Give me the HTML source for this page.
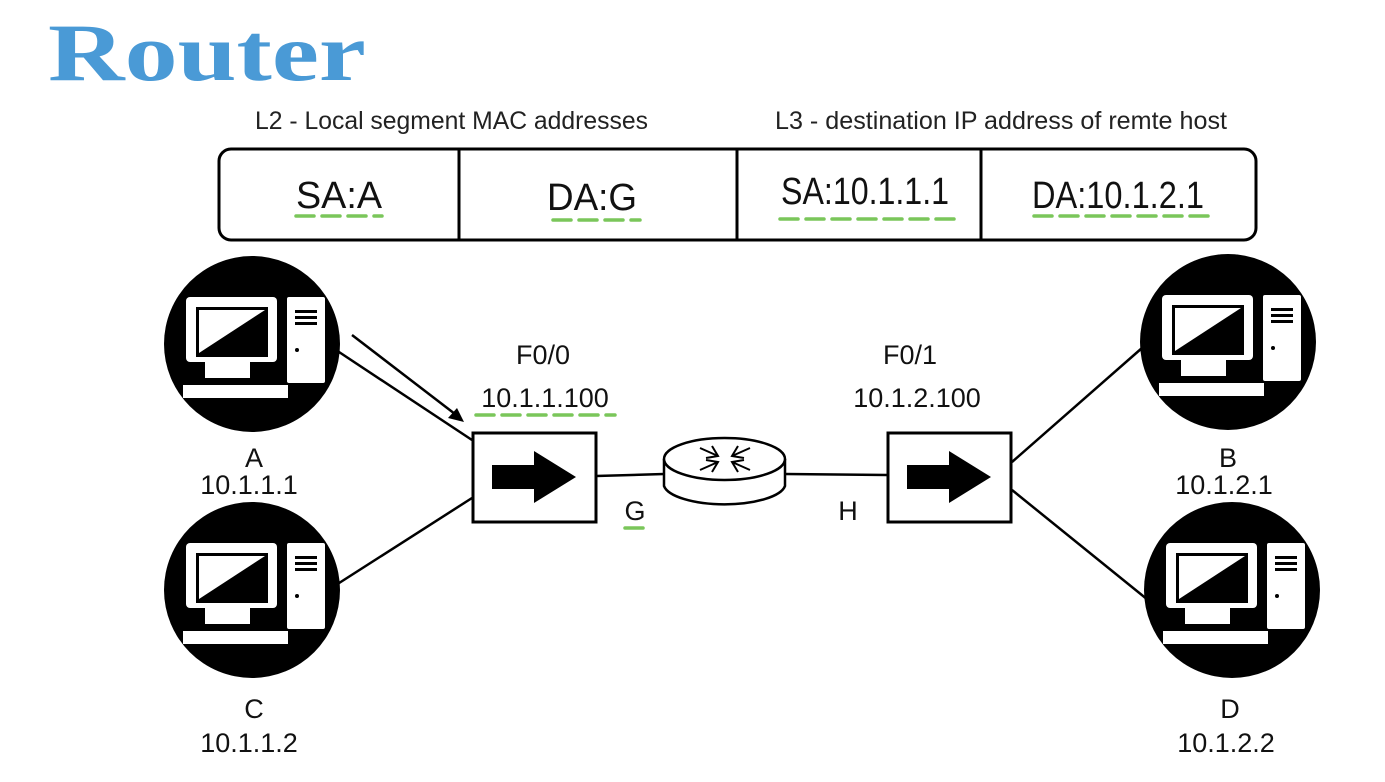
<!DOCTYPE html>
<html><head><meta charset="utf-8"><style>
html,body{margin:0;padding:0;background:#fff;}
svg{display:block;}
text{font-family:"Liberation Sans",sans-serif;}
text.t{font-family:"Liberation Serif",serif;font-weight:bold;}
</style></head><body>
<svg width="1385" height="782" viewBox="0 0 1385 782" xmlns="http://www.w3.org/2000/svg">
<defs>
<g id="pc">
<circle cx="0" cy="0" r="88" fill="#000"/>
<rect x="-66" y="-47" width="91" height="65" rx="4" fill="#fff"/>
<rect x="-56" y="-37" width="72" height="50" fill="#000"/>
<polygon points="-53,-34 13,-34 -53,9" fill="#fff"/>
<rect x="-47" y="18" width="45" height="16" fill="#fff"/>
<rect x="-69" y="41" width="105" height="13" fill="#fff"/>
<rect x="35" y="-47" width="38" height="86" rx="2" fill="#fff"/>
<rect x="43" y="-34" width="22" height="3" fill="#000"/>
<rect x="43" y="-28" width="22" height="3" fill="#000"/>
<rect x="43" y="-22" width="22" height="3" fill="#000"/>
<circle cx="45" cy="6" r="2" fill="#000"/>
</g>
<g id="arr">
<polygon points="0,-12 42,-12 42,-26 84,0 42,26 42,12 0,12" fill="#000"/>
</g>
</defs>

<text class="t" x="48" y="80" font-size="82" fill="#4a9ad6" textLength="318" lengthAdjust="spacingAndGlyphs">Router</text>

<text x="255" y="129" font-size="25" fill="#222" textLength="393" lengthAdjust="spacingAndGlyphs">L2 - Local segment MAC addresses</text>
<text x="775" y="129" font-size="25" fill="#222" textLength="452" lengthAdjust="spacingAndGlyphs">L3 - destination IP address of remte host</text>

<rect x="219" y="149" width="1037" height="91" rx="12" fill="none" stroke="#000" stroke-width="3"/>
<line x1="459" y1="149" x2="459" y2="240" stroke="#000" stroke-width="3"/>
<line x1="737" y1="149" x2="737" y2="240" stroke="#000" stroke-width="3"/>
<line x1="981" y1="149" x2="981" y2="240" stroke="#000" stroke-width="3"/>

<g font-size="38" fill="#111">
<text x="296" y="208" textLength="86" lengthAdjust="spacingAndGlyphs">SA:A</text>
<text x="547" y="210" textLength="90" lengthAdjust="spacingAndGlyphs">DA:G</text>
<text x="781" y="204" textLength="168" lengthAdjust="spacingAndGlyphs">SA:10.1.1.1</text>
<text x="1032" y="208" textLength="172" lengthAdjust="spacingAndGlyphs">DA:10.1.2.1</text>
</g>
<g stroke="#7ac65a" stroke-width="3.5" stroke-dasharray="18,8" stroke-linecap="round" fill="none">
<line x1="296" y1="216" x2="382" y2="216"/>
<line x1="553" y1="220" x2="640" y2="220"/>
<line x1="780" y1="219" x2="960" y2="219"/>
<line x1="1034" y1="216" x2="1214" y2="216"/>
<line x1="476" y1="415" x2="615" y2="415"/>
<line x1="625" y1="528" x2="646" y2="528"/>
</g>

<use href="#pc" x="252" y="344"/>
<use href="#pc" x="252" y="590"/>
<use href="#pc" x="1228" y="342"/>
<use href="#pc" x="1232" y="590"/>

<g stroke="#000" stroke-width="2.5" fill="none">
<line x1="336" y1="350" x2="472" y2="440"/>
<line x1="336" y1="585" x2="472" y2="498"/>
<line x1="1012" y1="462" x2="1142" y2="348"/>
<line x1="1012" y1="490" x2="1148" y2="600"/>
<line x1="596" y1="476" x2="664" y2="474"/>
<line x1="785" y1="474" x2="887" y2="475"/>
<line x1="352" y1="335" x2="455" y2="414"/>
</g>
<polygon points="464,422 448,418 457,408" fill="#000"/>

<rect x="473" y="433" width="123" height="89" fill="#fff" stroke="#000" stroke-width="3"/>
<use href="#arr" x="492" y="477"/>
<rect x="888" y="433" width="123" height="89" fill="#fff" stroke="#000" stroke-width="3"/>
<use href="#arr" x="907" y="477"/>

<path d="M664,459 L664,486 A61,21 0 0 0 785,486 L785,459" fill="#fff" stroke="#000" stroke-width="2.5"/>
<ellipse cx="724.5" cy="459" rx="60.5" ry="21" fill="#fff" stroke="#000" stroke-width="2.5"/>
<g stroke="#000" stroke-width="2" fill="none">
<path d="M700,448 L718,456 M712,446 L718,456 L706,458"/>
<path d="M750,448 L732,456 M738,446 L732,456 L744,458"/>
<path d="M700,470 L718,462 M706,460 L718,462 L712,472"/>
<path d="M750,470 L732,462 M744,460 L732,462 L738,472"/>
</g>

<g font-size="27" fill="#111" text-anchor="middle">
<text x="543" y="364">F0/0</text>
<text x="545" y="407">10.1.1.100</text>
<text x="910" y="364">F0/1</text>
<text x="917" y="407">10.1.2.100</text>
<text x="635" y="520">G</text>
<text x="848" y="520">H</text>
<text x="254" y="467">A</text>
<text x="249" y="494">10.1.1.1</text>
<text x="254" y="718">C</text>
<text x="249" y="752">10.1.1.2</text>
<text x="1228" y="467">B</text>
<text x="1224" y="494">10.1.2.1</text>
<text x="1230" y="718">D</text>
<text x="1226" y="752">10.1.2.2</text>
</g>
</svg>
</body></html>
